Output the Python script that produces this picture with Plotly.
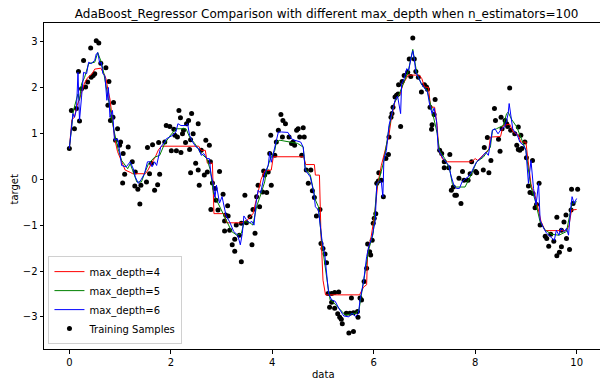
import plotly.graph_objects as go

# Training samples
sample_x = [0.00,0.04,0.10,0.14,0.18,0.20,0.24,0.28,0.32,0.36,0.42,0.43,0.47,0.50,0.53,0.58,0.62,0.72,0.76,0.78,
            0.81,0.86,0.87,0.91,0.95,0.99,1.01,1.05,1.06,1.09,1.16,1.24,1.29,1.30,1.35,1.39,1.41,1.52,1.54,1.58,
            1.62,1.64,1.68,1.74,1.76,1.78,1.88,1.91,1.98,2.01,2.06,2.08,2.11,2.13,2.16,2.19,2.20,2.23,2.25,2.29,
            2.31,2.35,2.37,2.39,2.39,2.41,2.44,2.49,2.54,2.54,2.56,2.60,2.66,2.69,2.72,2.76,2.78,2.79,2.82,2.87,
            2.89,2.93,2.96,3.03,3.06,3.06,3.08,3.12,3.13,3.16,3.21,3.26,3.26,3.29,3.35,3.39,3.39,3.46,3.49,3.56,
            3.60,3.62,3.66,3.69,3.72,3.75,3.81,3.83,3.85,3.89,3.92,3.95,3.97,3.98,4.05,4.08,4.12,4.17,4.20,4.21,
            4.26,4.33,4.38,4.41,4.44,4.48,4.51,4.54,4.58,4.61,4.63,4.67,4.71,4.76,4.79,4.83,4.87,4.94,4.96,5.00,
            5.04,5.07,5.10,5.13,5.17,5.17,5.23,5.23,5.29,5.31,5.33,5.36,5.38,5.46,5.51,5.53,5.56,5.60,5.60,5.68,
            5.69,5.73,5.76,5.81,5.86,5.88,5.92,5.94,5.97,5.99,6.01,6.04,6.06,6.09,6.10,6.15,6.19,6.24,6.29,6.30,
            6.34,6.36,6.38,6.42,6.45,6.48,6.49,6.53,6.56,6.60,6.67,6.70,6.73,6.77,6.80,6.83,6.88,6.94,7.00,7.04,
            7.06,7.11,7.14,7.15,7.19,7.21,7.30,7.34,7.39,7.39,7.48,7.50,7.53,7.57,7.60,7.63,7.68,7.72,7.75,7.78,
            7.86,7.90,7.93,8.01,8.03,8.16,8.18,8.24,8.27,8.31,8.38,8.40,8.46,8.49,8.51,8.53,8.59,8.62,8.64,8.68,
            8.70,8.78,8.82,8.85,8.85,8.88,8.90,8.92,8.98,9.01,9.05,9.08,9.13,9.14,9.18,9.21,9.26,9.28,9.38,9.41,
            9.45,9.49,9.55,9.61,9.61,9.66,9.70,9.70,9.75,9.79,9.80,9.86,9.89,9.90,9.93,10.02]
sample_y = [0.67,1.50,1.10,1.54,2.35,1.27,1.97,2.59,2.01,2.12,2.86,2.22,2.26,2.30,3.02,2.97,2.53,2.43,1.61,2.13,
            1.28,1.35,1.67,0.85,1.10,0.74,0.81,-0.08,0.56,0.11,0.70,0.38,-0.15,0.16,-0.22,-0.54,-0.13,-0.06,0.69,0.12,
            0.35,0.75,-0.24,-0.12,0.80,0.11,0.81,1.17,1.15,0.62,1.09,0.96,0.62,0.92,1.50,1.34,0.58,0.99,1.07,0.80,
            1.21,1.28,0.65,0.86,0.14,1.43,0.99,0.35,1.21,0.20,-0.13,0.63,0.09,0.85,0.16,0.74,0.38,-0.66,-0.08,-0.20,
            -0.46,-0.67,0.17,-0.33,-0.91,-1.13,-0.78,-0.58,-0.80,-1.11,-1.43,-1.57,-1.31,-1.00,-1.22,-1.80,-0.96,-0.35,-0.95,-0.82,
            -1.43,-0.66,-1.18,-0.38,-0.13,-0.60,-0.28,0.18,0.09,-0.29,0.16,0.56,0.96,-0.13,0.52,0.81,1.07,1.41,0.92,1.28,
            1.21,0.92,0.78,0.81,0.74,1.07,1.10,0.92,0.52,1.12,0.92,0.20,-0.09,0.20,-0.25,-0.40,-0.80,-0.66,-1.40,-1.51,
            -1.63,-1.82,-2.49,-2.79,-2.49,-2.68,-2.47,-2.81,-2.93,-2.46,-3.01,-3.05,-3.15,-2.92,-3.35,-2.92,-2.59,-3.32,-2.91,-2.88,
            -3.01,-2.59,-2.63,-2.23,-1.94,-1.41,-1.58,-1.65,-1.33,-0.96,-0.85,-0.75,-0.09,-0.04,0.14,-0.02,-0.38,0.45,0.54,0.92,
            1.35,1.43,1.57,1.79,1.83,1.86,2.06,1.15,2.13,2.26,2.33,2.62,2.24,3.08,2.62,2.35,2.22,1.90,2.06,2.01,
            1.96,1.57,1.09,1.19,1.41,1.74,0.63,0.56,0.38,0.25,0.25,0.54,-0.24,-0.17,-0.35,-0.35,0.02,-0.53,0.17,-0.02,
            -0.02,0.12,0.38,0.17,0.14,0.20,0.69,0.91,0.14,0.41,1.54,1.28,0.87,0.61,1.35,1.10,1.28,1.21,1.15,1.99,
            1.07,0.99,0.74,0.65,1.14,0.63,0.96,0.67,0.81,0.47,-0.15,-0.29,0.41,-0.31,-0.62,-0.55,-0.09,-1.00,-1.24,-1.29,
            -1.46,-1.20,-1.35,-0.83,-1.67,-1.59,-1.47,-1.11,-0.93,-0.78,-1.29,-1.53,-0.67,-0.22,-0.53,-0.22]

# Predictions, max_depth=4
d4_x = [0,0.05,0.1,0.15,0.2,0.25,0.3,0.35,0.45,0.5,0.62,0.68,0.72,0.76,0.8,0.86,0.9,0.95,1.03,1.1,1.2,1.25,1.5,1.55,
        1.62,1.7,1.76,1.82,2.55,2.6,2.68,2.72,2.82,2.85,3.05,3.1,3.4,3.5,3.62,3.7,3.78,3.85,3.98,4.02,4.62,4.66,4.83,
        4.85,4.93,4.96,5.0,5.05,5.72,5.8,5.86,5.88,5.95,6.02,6.08,6.15,6.2,6.26,6.3,6.35,6.42,6.47,6.52,6.58,6.65,6.68,
        6.9,6.95,7.0,7.08,7.12,7.2,7.25,7.28,7.35,7.45,7.93,8.0,8.05,8.2,8.27,8.3,8.5,8.55,8.68,8.75,8.85,8.9,9.0,9.03,
        9.07,9.1,9.13,9.17,9.21,9.3,9.38,9.8,9.85,9.9,10.0]
d4_y = [0.67,1.3,1.35,1.6,1.75,1.95,2.1,2.2,2.3,2.4,2.42,2.3,2.2,1.95,1.75,1.2,0.85,0.6,0.4,0.2,0.15,0.12,0.12,0.2,
        0.35,0.5,0.65,0.72,0.72,0.63,0.63,0.35,0.35,-0.75,-0.75,-0.95,-0.95,-0.9,-0.75,-0.4,0.0,0.18,0.2,0.49,0.49,0.32,0.32,
        0.09,0.09,-1.2,-2.2,-2.52,-2.52,-2.35,-2.3,-1.6,-1.25,-0.75,-0.1,0.3,0.5,0.74,0.96,1.35,1.7,1.8,1.86,2.08,2.2,2.27,
        2.27,2.19,2.01,2.0,1.57,1.57,1.17,0.67,0.45,0.38,0.38,0.45,0.41,0.59,0.65,0.92,0.93,1.17,1.2,1.03,0.96,0.81,0.81,0.52,
        0.1,-0.1,-0.23,-0.3,-0.5,-0.93,-1.12,-1.12,-1.0,-0.67,-0.66]

# Predictions, max_depth=5
d5_x = [0,0.04,0.08,0.17,0.2,0.24,0.3,0.38,0.5,0.56,0.63,0.68,0.73,0.8,0.88,0.95,1.03,1.15,1.2,1.33,1.42,1.48,1.56,
        1.68,1.78,1.88,1.98,2.1,2.3,2.37,2.47,2.6,2.71,2.78,2.84,2.9,3.0,3.09,3.2,3.3,3.39,3.45,3.56,3.62,3.69,3.77,3.85,
        3.89,3.95,4.05,4.08,4.15,4.38,4.5,4.61,4.65,4.75,4.85,4.91,4.98,5.08,5.14,5.2,5.31,5.44,5.64,5.71,5.75,5.82,5.9,
        5.99,6.06,6.1,6.2,6.3,6.4,6.5,6.6,6.68,6.77,6.85,6.95,7.05,7.15,7.25,7.3,7.4,7.5,7.55,7.6,7.8,7.9,8.0,8.03,8.16,
        8.3,8.34,8.42,8.55,8.62,8.65,8.72,8.82,8.92,9.0,9.05,9.1,9.18,9.28,9.38,9.51,9.65,9.8,9.86,9.91,10.0]
d5_y = [0.67,1.13,1.5,1.86,1.72,2.08,2.22,2.52,2.55,2.76,2.55,2.3,1.97,1.57,1.06,0.7,0.41,0.23,0.34,-0.06,-0.06,0.12,
        0.34,0.48,0.52,0.78,0.94,1.1,1.1,0.92,0.78,0.56,0.45,0.2,-0.3,-0.45,-0.67,-0.88,-1.14,-1.22,-1.18,-0.92,-0.95,-1.0,
        -0.6,-0.34,-0.06,0.2,0.41,0.63,0.81,0.85,0.81,0.78,0.7,0.23,0.09,-0.45,-0.6,-1.4,-2.2,-2.63,-2.68,-2.81,-2.96,
        -2.92,-2.85,-2.56,-2.05,-1.54,-1.18,-0.17,-0.04,0.4,1.1,1.65,1.85,2.15,2.35,2.83,2.3,2.05,1.95,1.5,1.0,0.62,0.45,
        0.2,-0.1,-0.17,-0.17,0.05,0.3,0.38,0.48,0.7,1.07,1.1,1.17,1.43,1.46,1.3,1.14,0.85,0.63,0.2,-0.17,-0.45,-0.93,
        -1.11,-1.2,-1.22,-1.14,-0.8,-0.53,-0.49]

# Predictions, max_depth=6
d6_x = [0,0.04,0.07,0.1,0.14,0.17,0.2,0.24,0.28,0.34,0.38,0.43,0.5,0.53,0.56,0.6,0.63,0.66,0.7,0.74,0.77,0.8,0.85,
        0.89,0.95,0.99,1.03,1.12,1.2,1.27,1.3,1.36,1.42,1.48,1.54,1.59,1.63,1.68,1.72,1.8,1.88,1.91,1.98,2.04,2.1,2.14,
        2.2,2.3,2.33,2.37,2.43,2.5,2.55,2.6,2.65,2.71,2.76,2.79,2.84,2.87,2.9,2.93,2.96,3.01,3.06,3.09,3.16,3.24,3.32,
        3.37,3.41,3.44,3.49,3.55,3.6,3.64,3.68,3.72,3.77,3.81,3.85,3.92,3.95,3.98,4.02,4.08,4.12,4.18,4.31,4.38,4.44,
        4.56,4.61,4.65,4.75,4.82,4.85,4.91,4.95,4.98,5.04,5.08,5.11,5.17,5.24,5.31,5.41,5.51,5.57,5.64,5.7,5.73,5.8,
        5.86,5.9,5.96,6.03,6.06,6.09,6.12,6.15,6.18,6.2,6.25,6.3,6.33,6.36,6.42,6.47,6.53,6.55,6.6,6.65,6.69,6.73,6.77,
        6.8,6.83,6.88,6.94,7.01,7.06,7.1,7.15,7.19,7.24,7.27,7.3,7.37,7.43,7.48,7.52,7.58,7.63,7.69,7.74,7.79,7.86,
        7.93,7.99,8.03,8.13,8.21,8.26,8.3,8.34,8.39,8.45,8.52,8.58,8.62,8.65,8.67,8.7,8.74,8.78,8.83,8.88,8.95,9.0,
        9.05,9.1,9.15,9.2,9.25,9.28,9.35,9.41,9.49,9.56,9.6,9.65,9.69,9.76,9.8,9.84,9.88,9.91,9.95,10.0]
d6_y = [0.67,1.21,1.43,1.35,1.52,2.33,1.28,1.79,2.33,2.3,2.55,2.52,2.59,2.73,2.76,2.52,2.55,2.3,2.26,1.72,2.0,1.35,
        1.5,0.85,0.88,0.62,0.3,0.27,0.38,0.2,0.05,-0.09,0.0,0.12,0.38,0.38,0.27,0.38,0.3,0.7,0.81,0.88,0.92,0.96,1.03,
        1.21,1.17,1.17,1.21,0.96,0.81,0.7,0.67,0.52,0.56,0.45,0.45,0.12,-0.13,-0.4,-0.13,-0.38,-0.52,-0.38,-0.7,-0.8,
        -0.93,-1.14,-1.22,-1.43,-1.18,-0.8,-0.88,-0.95,-0.92,-1.0,-0.52,-0.24,-0.3,-0.09,0.12,0.3,0.59,0.37,0.56,0.85,
        1.03,1.03,1.02,0.88,0.85,0.81,0.7,0.2,0.05,-0.3,-0.6,-0.67,-1.04,-1.33,-1.69,-2.12,-2.49,-2.63,-2.66,-2.81,-2.98,
        -3.0,-2.92,-2.99,-2.92,-2.63,-2.23,-1.69,-1.47,-1.29,-0.9,-0.1,-0.06,-0.03,-0.06,-0.38,0.41,0.63,1.17,1.32,1.43,
        1.72,1.81,1.43,2.08,2.19,2.41,2.37,2.62,2.8,2.62,2.33,2.22,2.08,1.97,1.9,1.64,1.43,1.55,1.25,0.67,0.59,0.45,0.38,
        0.3,0.09,-0.13,-0.2,-0.2,-0.06,0.0,0.05,0.16,0.3,0.38,0.48,0.59,0.52,0.78,1.07,1.1,0.99,1.1,1.14,1.28,1.43,1.65,
        1.36,1.1,1.03,0.96,0.81,0.74,0.63,-0.09,0.41,-0.2,-0.56,-0.09,-0.89,-1.07,-1.18,-1.25,-1.33,-1.11,-1.22,-1.07,
        -1.14,-1.07,-1.22,-0.67,-0.38,-0.53,-0.42]

x_ticks = [0, 2, 4, 6, 8, 10]
y_ticks = [-3, -2, -1, 0, 1, 2, 3]

fig = go.Figure()
fig.add_trace(go.Scatter(x=sample_x, y=sample_y, mode="markers", name="Training Samples",
                         marker=dict(color="black", size=5), legendrank=4))
fig.add_trace(go.Scatter(x=d4_x, y=d4_y, mode="lines", name="max_depth=4",
                         line=dict(color="red", width=1), legendrank=1))
fig.add_trace(go.Scatter(x=d5_x, y=d5_y, mode="lines", name="max_depth=5",
                         line=dict(color="green", width=1), legendrank=2))
fig.add_trace(go.Scatter(x=d6_x, y=d6_y, mode="lines", name="max_depth=6",
                         line=dict(color="blue", width=1), legendrank=3))

axis_common = dict(showline=True, mirror=True, linecolor="black", linewidth=1, ticks="outside",
                   ticklen=3.5, tickwidth=1, tickcolor="black", showgrid=False, zeroline=False,
                   automargin=False, tickfont=dict(size=10, color="black"))

# The page body adds an 8px offset; the figure is sized so that the plot area
# lands at the reference's pixel position inside the 608x387 window.
fig.update_layout(
    width=600, height=379,
    margin=dict(l=36, r=6, t=15, b=38),
    paper_bgcolor="white", plot_bgcolor="white",
    font=dict(family="DejaVu Sans", size=10, color="black"),
    title=dict(text="AdaBoost_Regressor Comparison with different max_depth when n_estimators=100",
               x=0.531, xanchor="center", y=1 - 5.5 / 379, yanchor="middle", yref="container",
               font=dict(size=12)),
    xaxis=dict(range=[-0.5, 10.5], tickvals=x_ticks, **axis_common),
    yaxis=dict(range=[-3.70, 3.405], tickvals=y_ticks, **axis_common),
    legend=dict(x=0.008, y=0.015, xanchor="left", yanchor="bottom", bgcolor="rgba(255,255,255,0.8)",
                bordercolor="#d0d0d0", borderwidth=1, font=dict(size=10), tracegroupgap=0,
                itemwidth=30),
    showlegend=True,
    annotations=[
        dict(text="data", xref="paper", yref="paper", x=0.5, y=-(374 - 349) / 326,
             xanchor="center", yanchor="middle", showarrow=False, font=dict(size=10)),
        dict(text="target", xref="paper", yref="paper", x=(14.5 - 44) / 558, y=(349 - 190) / 326,
             xanchor="center", yanchor="middle", showarrow=False, textangle=-90, font=dict(size=10)),
    ],
)

fig.write_html("out.html")
